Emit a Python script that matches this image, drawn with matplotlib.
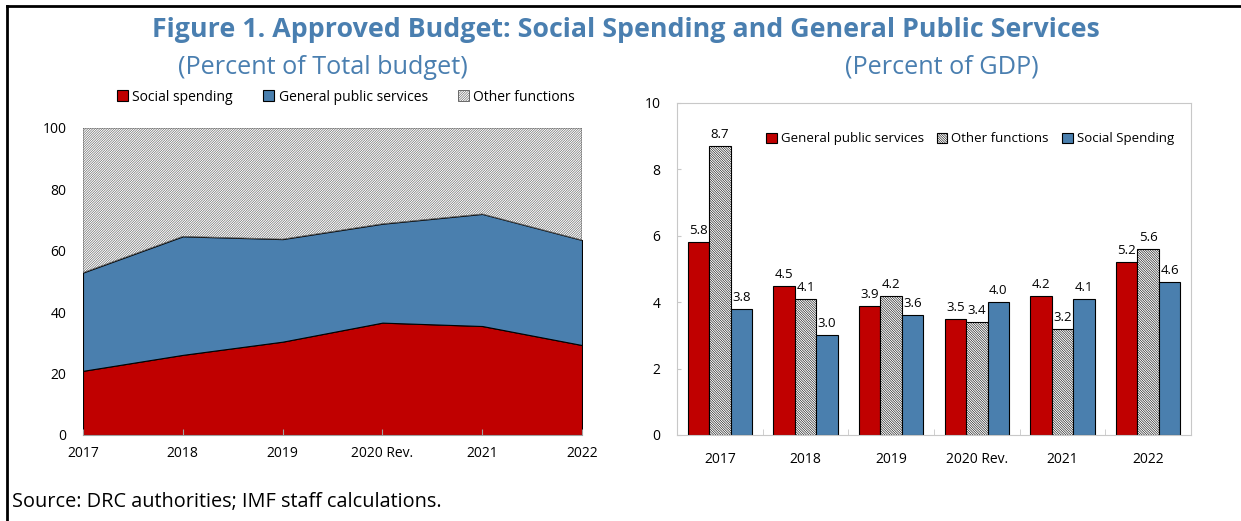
import numpy as np
import matplotlib.pyplot as plt
from matplotlib.lines import Line2D
from matplotlib.patches import Patch

plt.rcParams['font.family'] = ['Open Sans', 'DejaVu Sans']
plt.rcParams['hatch.linewidth'] = 0.4

years = ['2017', '2018', '2019', '2020 Rev.', '2021', '2022']

# share of total budget (percent)
social_share = np.array([20.9, 26.1, 30.4, 36.6, 35.5, 29.3])
gps_share = np.array([32.0, 38.6, 33.4, 32.2, 36.5, 34.2])
other_share = 100 - social_share - gps_share

# percent of GDP
gps_gdp = [5.8, 4.5, 3.9, 3.5, 4.2, 5.2]
other_gdp = [8.7, 4.1, 4.2, 3.4, 3.2, 5.6]
social_gdp = [3.8, 3.0, 3.6, 4.0, 4.1, 4.6]

red = '#C00000'
blue = '#4A7FAE'
title_col = '#4A7FB0'
hatch_col = '#555555'
fwd = '/' * 14
back = '\\' * 14

fig = plt.figure(figsize=(12.41, 5.21), dpi=100)

# frame lines along top and left
fig.add_artist(Line2D([7/1241, 1], [1-6/521, 1-6/521], color='black', lw=2))
fig.add_artist(Line2D([7/1241, 7/1241], [0, 1-6/521], color='black', lw=2))

fig.text(0.504, 1-30/521, 'Figure 1. Approved Budget: Social Spending and General Public Services',
         ha='center', va='center', fontsize=19.3, fontweight='bold', color=title_col)
fig.text(0.260, 1-67/521, '(Percent of Total budget)', ha='center', va='center',
         fontsize=18.2, color=title_col)
fig.text(0.759, 1-67/521, '(Percent of GDP)', ha='center', va='center',
         fontsize=18.2, color=title_col)
fig.text(12/1241, 1-502/521, 'Source: DRC authorities; IMF staff calculations.',
         ha='left', va='center', fontsize=14.3)

# left panel: stacked areas
ax1 = fig.add_axes([83/1241, 86/521, 499/1241, 307/521])
x = np.arange(len(years))
low = social_share
mid = social_share + gps_share
ax1.fill_between(x, 0, low, facecolor=red, edgecolor='black', lw=0.8)
ax1.fill_between(x, low, mid, facecolor=blue, edgecolor='black', lw=0.8)
ax1.fill_between(x, mid, mid + other_share, facecolor='white', edgecolor=hatch_col,
                 hatch=fwd, lw=0.6)
ax1.set_xlim(0, 5)
ax1.set_ylim(0, 100)
ax1.set_yticks(range(0, 101, 20))
ax1.set_xticks(x)
ax1.set_xticklabels(years)
for s in ['top', 'right', 'left']:
    ax1.spines[s].set_visible(False)
ax1.spines['bottom'].set_color('#A0A0A0')
ax1.tick_params(axis='y', length=0, labelsize=10, pad=12)
ax1.tick_params(axis='x', direction='in', length=4, color='#A0A0A0', labelsize=10, pad=8)

left_handles = [Patch(facecolor=red, edgecolor='black', lw=0.8),
                Patch(facecolor=blue, edgecolor='black', lw=0.8),
                Patch(facecolor='white', edgecolor=hatch_col, hatch=fwd, lw=0.6)]
fig.legend(left_handles, ['Social spending', 'General public services', 'Other functions'],
           loc='center', bbox_to_anchor=(346/1241, 1-97/521), ncol=3, frameon=False,
           fontsize=10, handlelength=0.8, handleheight=0.8, handletextpad=0.3,
           columnspacing=2.2)

# right panel: grouped bars
ax2 = fig.add_axes([677/1241, 86/521, 514/1241, 332/521])
w = 0.25
b1 = ax2.bar(x - w, gps_gdp, w, color=red, edgecolor='black', lw=0.8,
             label='General public services')
b2 = ax2.bar(x, other_gdp, w, color='white', edgecolor='black', lw=0.8, hatch=back,
             label='Other functions')
b3 = ax2.bar(x + w, social_gdp, w, color=blue, edgecolor='black', lw=0.8,
             label='Social Spending')
for bars, vals in [(b1, gps_gdp), (b2, other_gdp), (b3, social_gdp)]:
    for r, v in zip(bars, vals):
        ax2.text(r.get_x() + r.get_width() / 2, v + 0.15, f'{v:.1f}',
                 ha='center', va='bottom', fontsize=9.5)
ax2.set_xlim(-0.5, 5.5)
ax2.set_ylim(0, 10)
ax2.set_yticks(range(0, 11, 2))
ax2.set_xticks(x)
ax2.set_xticklabels(years)
ax2.set_xticks(np.arange(0.5, 5.5, 1), minor=True)
for s in ax2.spines.values():
    s.set_color('#C8C8C8')
ax2.tick_params(axis='y', direction='in', length=3, color='#C8C8C8', labelsize=10, pad=12)
ax2.tick_params(axis='x', which='major', length=0, labelsize=10, pad=12)
ax2.tick_params(axis='x', which='minor', direction='in', length=4, color='#C8C8C8')
ax2.legend(loc='center', bbox_to_anchor=(0.57, 1 - 36/332), ncol=3, frameon=False,
           fontsize=9.5, handlelength=0.8, handleheight=0.8, handletextpad=0.3,
           columnspacing=1.0)

fig.savefig('out.png', dpi=100)
